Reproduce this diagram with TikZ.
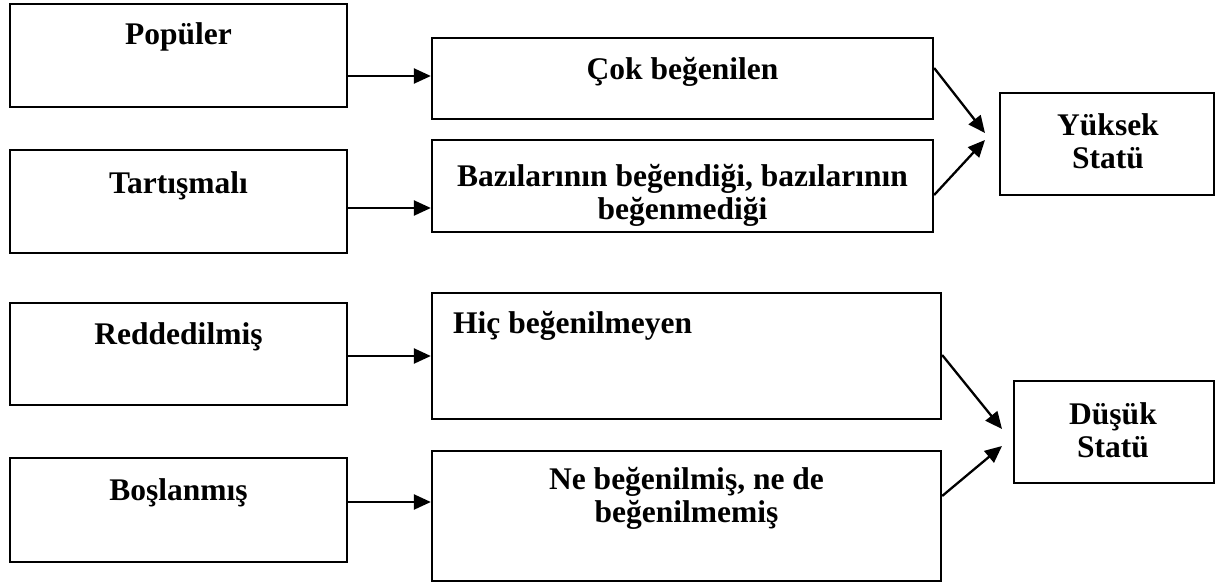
\documentclass[tikz,border=0pt]{standalone}
\usepackage{fontspec}
\setmainfont{Liberation Serif}
\usetikzlibrary{arrows.meta}
\tikzset{
  box/.style={draw=black, line width=2.3pt, fill=white, inner sep=0pt},
  lbl/.style={font=\bfseries\fontsize{31.5}{33}\selectfont, inner sep=0pt, anchor=base, align=center},
  conn/.style={line width=2.3pt, -{Triangle[length=17pt,width=15pt]}}
}
\begin{document}
\begin{tikzpicture}[x=1pt,y=-1pt]
\useasboundingbox (0,0) rectangle (1227,586);
% left boxes
\node[box, minimum width=337pt, minimum height=103pt] (l1) at (178.5,55.5) {};
\node[box, minimum width=337pt, minimum height=103pt] (l2) at (178.5,201.5) {};
\node[box, minimum width=337pt, minimum height=102pt] (l3) at (178.5,354) {};
\node[box, minimum width=337pt, minimum height=104pt] (l4) at (178.5,510) {};
\node[lbl] (t1) at (178.5,45) {Popüler};
\node[lbl] (t2) at (178.5,193) {Tartışmalı};
\node[lbl] (t3) at (178.5,344) {Reddedilmiş};
\node[lbl] (t4) at (178.5,500) {Boşlanmış};
% middle boxes
\node[box, minimum width=501pt, minimum height=81pt] (m1) at (682.5,78.5) {};
\node[box, minimum width=501pt, minimum height=92pt] (m2) at (682.5,186) {};
\node[box, minimum width=509pt, minimum height=126pt] (m3) at (686.5,356) {};
\node[box, minimum width=509pt, minimum height=130pt] (m4) at (686.5,516) {};
\node[lbl] (u1) at (682.5,80) {Çok beğenilen};
\node[lbl] (u2) at (682.5,219) {Bazılarının beğendiği, bazılarının\\beğenmediği};
\node[lbl, anchor=base west] (u3) at (453,333) {Hiç beğenilmeyen};
\node[lbl] (u4) at (686.5,522) {Ne beğenilmiş, ne de\\beğenilmemiş};
% right boxes
\node[box, minimum width=214pt, minimum height=102pt] (r1) at (1107,144) {};
\node[box, minimum width=200pt, minimum height=102pt] (r2) at (1114,432) {};
\node[lbl] (v1) at (1108,168) {Yüksek\\Statü};
\node[lbl] (v2) at (1113,457) {Düşük\\Statü};
% arrow end points
\coordinate (e1) at (985,133);
\coordinate (e2) at (985,140);
\coordinate (e3) at (1002,429);
\coordinate (e4) at (1002,446);
% horizontal connectors
\draw[conn] (l1.east |- 0,76) -- (m1.west |- 0,76);
\draw[conn] (l2.east |- 0,208) -- (m2.west |- 0,208);
\draw[conn] (l3.east |- 0,356) -- (m3.west |- 0,356);
\draw[conn] (l4.east |- 0,502) -- (m4.west |- 0,502);
% diagonal connectors
\draw[conn] (m1.east |- 0,68) -- (e1);
\draw[conn] (m2.east |- 0,195) -- (e2);
\draw[conn] (m3.east |- 0,355) -- (e3);
\draw[conn] (m4.east |- 0,496) -- (e4);
\end{tikzpicture}
\end{document}
